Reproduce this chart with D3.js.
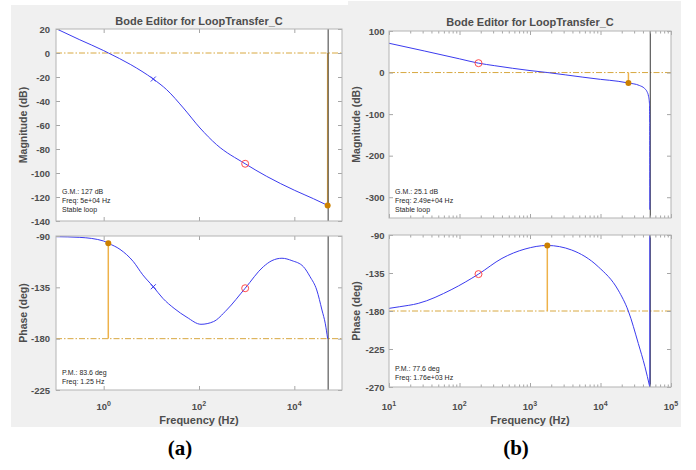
<!DOCTYPE html>
<html>
<head>
<meta charset="utf-8">
<script src="https://cdn.jsdelivr.net/npm/d3@7"></script>
<style>
body { margin: 0; background: #fff; }
svg { display: block; font-family: "Liberation Sans", Arial, sans-serif; }
</style>
</head>
<body>
<svg id="chart" width="696" height="470"></svg>
<script>
// ---- panel (a) data ----
const freqMagA = [0.1, 0.316, 1, 1.26, 3.7, 11, 21, 47, 105, 234, 930, 2630, 10200, 25100, 50000];
const magA = [20.3, 11, 2, 0, -9.7, -21.7, -30.6, -45.8, -62.5, -76.4, -92.3, -102.8, -114.5, -121.4, -127];
const freqPhaseA = [0.1, 0.316, 1, 1.26, 2.2, 4.2, 6.6, 11, 17.4, 30, 56, 110, 200, 380, 930, 2240, 3390, 5500, 8900, 15500, 21400, 29500, 38000, 44700, 50000];
const phaseA = [-90.6, -91.2, -94.4, -96.4, -101.7, -112.5, -124, -134.5, -144.6, -153.4, -161.3, -167.4, -165.1, -154.9, -135.8, -116.9, -111.6, -109.5, -111.6, -116.9, -125.7, -137.3, -154.9, -167, -180];
const crossMarksA = [{f: 11, mag: -21.7, phase: -134.5}];
const circleMarksA = [{f: 930, mag: -92.3, phase: -135.8}];
const gmA = {f: 5e4, mag: -127};
const pmA = {f: 1.25, phase: -96.4};
const nyquistA = 5e4;
const magTicksA = [20, 0, -20, -40, -60, -80, -100, -120, -140];
const phaseTicksA = [-90, -135, -180, -225];
const freqTicksA = [1, 100, 10000];
const notesMagA = ["G.M.: 127 dB", "Freq: 5e+04 Hz", "Stable loop"];
const notesPhaseA = ["P.M.: 83.6 deg", "Freq: 1.25 Hz"];

// ---- panel (b) data ----
const freqMagB = [10, 31.6, 100, 186, 316, 1000, 1780, 3160, 10000, 17800, 24900, 35500, 42000, 45700, 48000, 49500, 49900, 50000];
const magB = [70.5, 52, 33, 22.6, 16.5, 4.8, 0, -5.5, -16.4, -21, -25.1, -31, -38, -46, -57, -75, -120, -330];
const freqPhaseB = [10, 14, 26, 78, 186, 400, 850, 1760, 3900, 9300, 17800, 24800, 34400, 42700, 50000];
const phaseB = [-176.9, -175, -171, -154.4, -136.3, -117.7, -106.6, -102.4, -107.8, -127.6, -155.2, -180, -218.5, -246, -270];
const wrapFreqB = [50000, 50000];
const wrapPhaseB = [-270, -90];
const crossMarksB = [];
const circleMarksB = [{f: 186, mag: 22.6, phase: -136.3}];
const gmB = {f: 2.49e4, mag: -25.1};
const pmB = {f: 1.76e3, phase: -102.4};
const nyquistB = 5e4;
const magTicksB = [100, 0, -100, -200, -300];
const phaseTicksB = [-90, -135, -180, -225, -270];
const freqTicksB = [10, 100, 1000, 10000, 100000];
const notesMagB = ["G.M.: 25.1 dB", "Freq: 2.49e+04 Hz", "Stable loop"];
const notesPhaseB = ["P.M.: 77.6 deg", "Freq: 1.76e+03 Hz"];

const svg = d3.select("#chart");
const blue = "#3b3bef";
const gold = "#d8a840";
const marginCol = "#eeb24a";
const dotCol = "#cc8000";
const textCol = "#4d4d4d";

// gray figure backgrounds
svg.append("rect").attr("x", 11).attr("y", 5).attr("width", 337).attr("height", 422).attr("fill", "#f0f0f0");
svg.append("rect").attr("x", 348).attr("y", 1).attr("width", 333).attr("height", 426).attr("fill", "#f0f0f0");

let clipId = 0;

function drawBox(x, y, yTicks, xTicks, minorTicks, labelPad) {
    const [x0, x1] = x.range();
    const [yb, yt] = y.range();

    const left = svg.append("g").attr("transform", `translate(${x0},0)`)
        .call(d3.axisLeft(y).tickValues(yTicks).tickSize(-4).tickPadding(labelPad).tickFormat(d => String(d)));
    const right = svg.append("g").attr("transform", `translate(${x1},0)`)
        .call(d3.axisRight(y).tickValues(yTicks).tickSize(-4).tickFormat(""));
    const bottom = svg.append("g").attr("transform", `translate(0,${yb})`)
        .call(d3.axisBottom(x).tickValues(xTicks).tickSize(-4).tickFormat(""));
    const top = svg.append("g").attr("transform", `translate(0,${yt})`)
        .call(d3.axisTop(x).tickValues(xTicks).tickSize(-4).tickFormat(""));
    const axes = [left, right, bottom, top];

    if (minorTicks.length) {
        axes.push(svg.append("g").attr("transform", `translate(0,${yb})`)
            .call(d3.axisBottom(x).tickValues(minorTicks).tickSize(-2.5).tickFormat("")));
        axes.push(svg.append("g").attr("transform", `translate(0,${yt})`)
            .call(d3.axisTop(x).tickValues(minorTicks).tickSize(-2.5).tickFormat("")));
    }

    axes.forEach(a => {
        a.select(".domain").remove();
        a.selectAll(".tick line").attr("stroke", "#a6a6a6");
        a.selectAll("text")
            .attr("fill", textCol)
            .style("font-family", "'Liberation Sans', Arial, sans-serif")
            .style("font-size", "9.5px")
            .style("font-weight", "bold");
    });

    svg.append("rect")
        .attr("x", x0).attr("y", yt)
        .attr("width", x1 - x0).attr("height", yb - yt)
        .attr("fill", "none").attr("stroke", "#b3b3b3").attr("stroke-width", 1);
}

function subplot(cfg) {
    const x = cfg.x, y = cfg.y;
    const [x0, x1] = x.range();
    const [yb, yt] = y.range();

    svg.append("rect").attr("x", x0).attr("y", yt).attr("width", x1 - x0).attr("height", yb - yt).attr("fill", "#fff");

    const id = "clip" + (clipId++);
    svg.append("clipPath").attr("id", id)
        .append("rect").attr("x", x0).attr("y", yt).attr("width", x1 - x0).attr("height", yb - yt);
    const g = svg.append("g").attr("clip-path", `url(#${id})`);

    // reference line (0 dB or -180 deg)
    g.append("line")
        .attr("x1", x0).attr("x2", x1)
        .attr("y1", y(cfg.refLevel)).attr("y2", y(cfg.refLevel))
        .attr("stroke", gold).attr("stroke-width", 1)
        .attr("stroke-dasharray", "6,2,1.5,2");

    // margin stem
    g.append("line")
        .attr("x1", x(cfg.margin.f)).attr("x2", x(cfg.margin.f))
        .attr("y1", y(cfg.margin.v)).attr("y2", y(cfg.refLevel))
        .attr("stroke", marginCol).attr("stroke-width", 1.5);

    // nyquist line
    g.append("line")
        .attr("x1", x(cfg.nyquist) + 0.5).attr("x2", x(cfg.nyquist) + 0.5)
        .attr("y1", yt).attr("y2", yb)
        .attr("stroke", "#3a3a3a").attr("stroke-width", 1);

    const line = d3.line()
        .x(d => x(d[0]))
        .y(d => y(d[1]))
        .curve(d3.curveMonotoneX);

    g.append("path")
        .attr("d", line(d3.zip(cfg.freq, cfg.values)))
        .attr("fill", "none").attr("stroke", blue).attr("stroke-width", 1);

    if (cfg.wrap) {
        g.append("path")
            .attr("d", d3.line().x(d => x(d[0])).y(d => y(d[1]))(cfg.wrap))
            .attr("fill", "none").attr("stroke", blue).attr("stroke-width", 1);
    }

    cfg.crosses.forEach(m => {
        const cx = x(m.f), cy = y(m[cfg.key]);
        g.append("path")
            .attr("d", `M${cx - 2.5},${cy - 2.5}L${cx + 2.5},${cy + 2.5}M${cx - 2.5},${cy + 2.5}L${cx + 2.5},${cy - 2.5}`)
            .attr("stroke", blue).attr("stroke-width", 1);
    });

    cfg.circles.forEach(m => {
        g.append("circle")
            .attr("cx", x(m.f)).attr("cy", y(m[cfg.key])).attr("r", 3.5)
            .attr("fill", "none").attr("stroke", "#ff4b4b").attr("stroke-width", 1);
    });

    svg.append("circle")
        .attr("cx", x(cfg.margin.f)).attr("cy", y(cfg.margin.v)).attr("r", 3)
        .attr("fill", dotCol);

    svg.append("g").selectAll("text")
        .data(cfg.notes)
        .enter()
        .append("text")
        .attr("x", cfg.noteX)
        .attr("y", (d, i) => cfg.noteY + i * 9)
        .text(d => d)
        .attr("fill", "#262626")
        .style("font-size", "7px");

    drawBox(x, y, cfg.yTicks, cfg.xTicks, cfg.minor, cfg.labelPad);

    svg.append("text")
        .attr("transform", `translate(${cfg.ylabelX},${(yt + yb) / 2}) rotate(-90)`)
        .attr("text-anchor", "middle")
        .attr("dominant-baseline", "central")
        .attr("fill", textCol)
        .style("font-size", "10.5px")
        .style("font-weight", "bold")
        .text(cfg.ylabel);
}

function freqLabels(x, ticks, yPos) {
    const t = svg.append("g").selectAll("text")
        .data(ticks)
        .enter()
        .append("text")
        .attr("x", d => x(d))
        .attr("y", yPos)
        .attr("text-anchor", "middle")
        .attr("fill", textCol)
        .style("font-size", "9.5px")
        .style("font-weight", "bold");
    t.append("tspan").text("10");
    t.append("tspan").attr("dy", -4.5).style("font-size", "7px").text(d => Math.round(Math.log10(d)));
}

function panel(p) {
    const x = d3.scaleLog().domain(p.xDomain).range(p.xRange);
    const yMag = d3.scaleLinear().domain(p.magDomain).range(p.magRange);
    const yPhase = d3.scaleLinear().domain(p.phaseDomain).range(p.phaseRange);
    const minor = [];
    if (p.minor) {
        d3.range(Math.log10(p.xDomain[0]), Math.log10(p.xDomain[1])).forEach(e => {
            for (let k = 2; k < 10; k++) minor.push(k * Math.pow(10, e));
        });
    }

    svg.append("text")
        .attr("x", (p.xRange[0] + p.xRange[1]) / 2)
        .attr("y", p.titleY)
        .attr("text-anchor", "middle")
        .attr("fill", textCol)
        .style("font-size", "11px")
        .style("font-weight", "bold")
        .text("Bode Editor for LoopTransfer_C");

    subplot({
        x: x, y: yMag, key: "mag", freq: p.freqMag, values: p.mag, refLevel: 0,
        margin: {f: p.gm.f, v: p.gm.mag}, nyquist: p.nyquist,
        crosses: p.crosses, circles: p.circles, notes: p.notesMag,
        noteX: p.noteX, noteY: p.noteMagY,
        yTicks: p.magTicks, xTicks: p.freqTicks, minor: minor, labelPad: p.labelPad,
        ylabel: "Magnitude (dB)", ylabelX: p.ylabelX
    });

    subplot({
        x: x, y: yPhase, key: "phase", freq: p.freqPhase, values: p.phase, refLevel: -180,
        margin: {f: p.pm.f, v: p.pm.phase}, nyquist: p.nyquist, wrap: p.wrap,
        crosses: p.crosses, circles: p.circles, notes: p.notesPhase,
        noteX: p.noteX, noteY: p.notePhaseY,
        yTicks: p.phaseTicks, xTicks: p.freqTicks, minor: minor, labelPad: p.labelPad,
        ylabel: "Phase (deg)", ylabelX: p.ylabelX
    });

    freqLabels(x, p.freqTicks, 410);

    svg.append("text")
        .attr("x", (p.xRange[0] + p.xRange[1]) / 2)
        .attr("y", 424)
        .attr("text-anchor", "middle")
        .attr("fill", textCol)
        .style("font-size", "11px")
        .style("font-weight", "bold")
        .text("Frequency (Hz)");

    svg.append("text")
        .attr("x", p.capX)
        .attr("y", 455)
        .attr("text-anchor", "middle")
        .attr("fill", "#000")
        .style("font-family", "'Liberation Serif', 'Times New Roman', serif")
        .style("font-size", "21px")
        .style("font-weight", "bold")
        .text(p.caption);
}

panel({
    xDomain: [0.1, 1e5], xRange: [56, 342],
    magDomain: [-140, 20], magRange: [221, 29],
    phaseDomain: [-225, -90], phaseRange: [390, 236],
    freqMag: freqMagA, mag: magA, freqPhase: freqPhaseA, phase: phaseA,
    gm: gmA, pm: pmA, nyquist: nyquistA,
    crosses: crossMarksA, circles: circleMarksA,
    notesMag: notesMagA, notesPhase: notesPhaseA,
    noteX: 62, noteMagY: 193.5, notePhaseY: 374.5,
    magTicks: magTicksA, phaseTicks: phaseTicksA, freqTicks: freqTicksA,
    minor: false, labelPad: 6, ylabelX: 22.5, titleY: 25,
    capX: 180, caption: "(a)"
});

panel({
    xDomain: [10, 1e5], xRange: [389, 671],
    magDomain: [-350, 100], magRange: [218, 31],
    phaseDomain: [-270, -90], phaseRange: [387, 235],
    freqMag: freqMagB, mag: magB, freqPhase: freqPhaseB, phase: phaseB,
    wrap: d3.zip(wrapFreqB, wrapPhaseB),
    gm: gmB, pm: pmB, nyquist: nyquistB,
    crosses: crossMarksB, circles: circleMarksB,
    notesMag: notesMagB, notesPhase: notesPhaseB,
    noteX: 395, noteMagY: 193.5, notePhaseY: 371,
    magTicks: magTicksB, phaseTicks: phaseTicksB, freqTicks: freqTicksB,
    minor: true, labelPad: 4.5, ylabelX: 355.5, titleY: 26,
    capX: 516, caption: "(b)"
});
</script>
</body>
</html>
